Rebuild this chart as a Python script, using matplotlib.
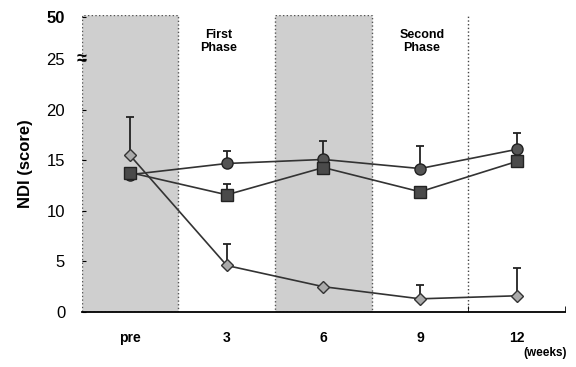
import matplotlib
matplotlib.use('Agg')
import matplotlib.pyplot as plt

plt.rcParams['font.family'] = ['Liberation Sans', 'DejaVu Sans']

weeks = ['pre', '3', '6', '9', '12']
circle_mean = [13.6, 14.7, 15.1, 14.2, 16.1]
circle_err = [0.0, 1.2, 1.8, 2.2, 1.6]
square_mean = [13.8, 11.6, 14.3, 11.9, 14.9]
square_err = [0.0, 1.1, 0.0, 0.0, 0.0]
diamond_mean = [15.5, 4.6, 2.5, 1.3, 1.6]
diamond_err = [3.8, 2.1, 0.0, 1.4, 2.8]
ytick_vals = [0, 5, 10, 15, 20, 25, 29.2]
ytick_labels = ['0', '5', '10', '15', '20', '25', '50']

x = list(range(len(weeks)))

fig = plt.figure(figsize=(5.76, 3.67), dpi=100)
ax = fig.add_axes([0.142, 0.150, 0.839, 0.809])

# shaded phases
for x0, x1 in [(-0.5, 0.5), (1.5, 2.5)]:
    ax.axvspan(x0, x1, facecolor='#cfcfcf', edgecolor='#555555',
               linestyle=':', linewidth=1.0, zorder=0)
ax.axvline(3.5, color='#444444', linestyle=':', linewidth=1.0, zorder=0)

err_kw = dict(capsize=3, elinewidth=1.3, capthick=1.3, ecolor='#222222')
ax.errorbar(x, circle_mean, yerr=[[0] * 5, circle_err], fmt='-o', color='#333333',
            markerfacecolor='#555555', markeredgecolor='#222222', markersize=8,
            linewidth=1.2, **err_kw, zorder=3)
ax.errorbar(x, square_mean, yerr=[[0] * 5, square_err], fmt='-s', color='#333333',
            markerfacecolor='#4a4a4a', markeredgecolor='#222222', markersize=8,
            linewidth=1.2, **err_kw, zorder=3)
ax.errorbar(x, diamond_mean, yerr=[[0] * 5, diamond_err], fmt='-D', color='#333333',
            markerfacecolor='#aaaaaa', markeredgecolor='#333333', markersize=6,
            linewidth=1.2, **err_kw, zorder=3)

ax.set_xlim(-0.5, 4.5)
ax.set_ylim(0, 29.4)
ax.set_xticks(x)
ax.set_xticklabels(weeks, fontsize=10, fontweight='bold')
ax.set_xticks([3.5, 4.5], minor=True)
ax.tick_params(axis='x', which='major', length=0, pad=14)
ax.tick_params(axis='x', which='minor', direction='in', length=4)
ax.set_yticks(ytick_vals)
ax.set_yticklabels(ytick_labels, fontsize=12)
ax.get_yticklabels()[-1].set_fontweight('bold')
ax.tick_params(axis='y', length=3, direction='in', pad=12)

for s in ['top', 'right', 'left']:
    ax.spines[s].set_visible(False)
ax.spines['bottom'].set_linewidth(1.3)

ax.set_ylabel('NDI (score)', fontsize=12, fontweight='bold', labelpad=10)

ax.text(-0.5, 25, '≈', fontsize=13, fontweight='bold', ha='center', va='center')
ax.text(0.92, 28.0, 'First\nPhase', fontsize=9, fontweight='bold',
        ha='center', va='top', linespacing=1.1)
ax.text(3.02, 28.0, 'Second\nPhase', fontsize=9, fontweight='bold',
        ha='center', va='top', linespacing=1.1)
fig.text(0.947, 0.03, '(weeks)', fontsize=8.5, fontweight='bold', ha='center')

fig.savefig('out.png', dpi=100)
